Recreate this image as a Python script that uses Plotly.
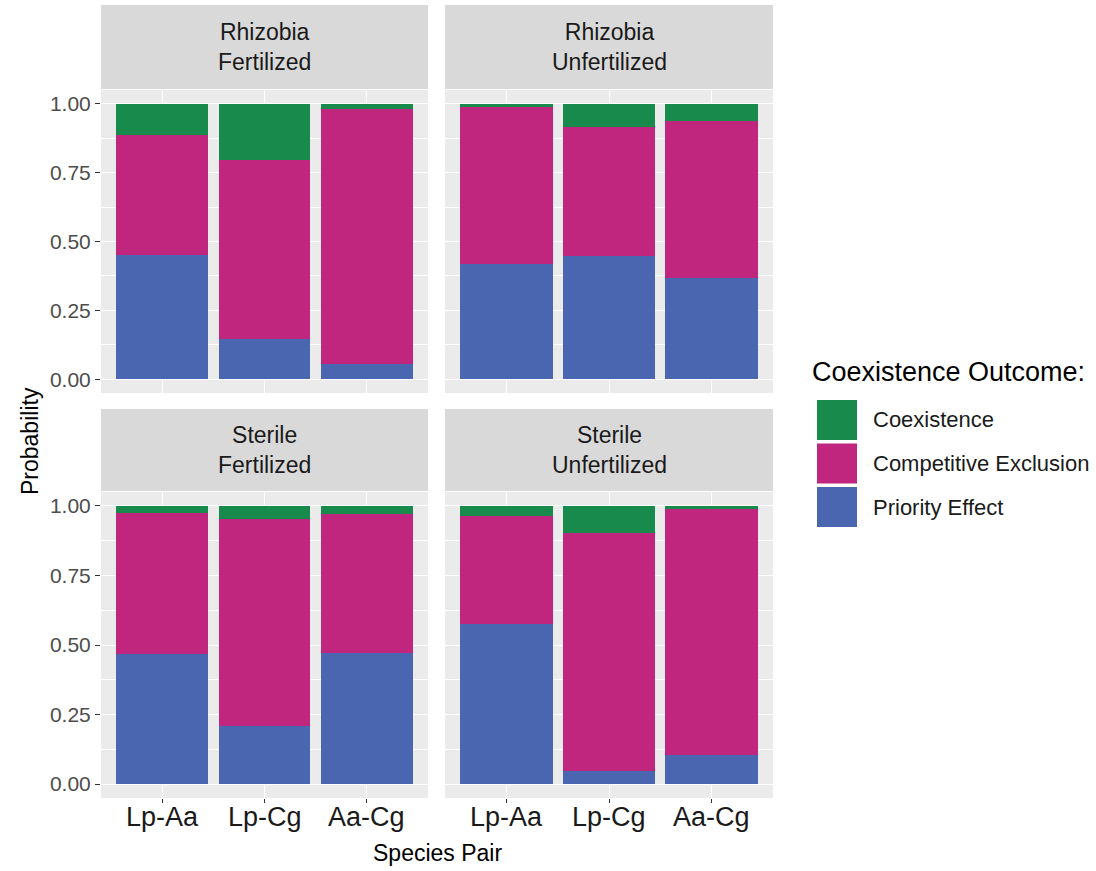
import plotly.graph_objects as go

# Species pairs on the x axis of every panel
pairs = ["Lp-Aa", "Lp-Cg", "Aa-Cg"]

# Panel labels (inoculum / fertilization)
panel_titles = ["Rhizobia<br>Fertilized", "Rhizobia<br>Unfertilized",
                "Sterile<br>Fertilized", "Sterile<br>Unfertilized"]

# Probability of each coexistence outcome, per panel, ordered as `pairs`
rf_priority = [0.450, 0.145, 0.054]
rf_exclusion = [0.435, 0.652, 0.928]
rf_coexistence = [0.115, 0.203, 0.018]

ru_priority = [0.420, 0.449, 0.366]
ru_exclusion = [0.569, 0.468, 0.572]
ru_coexistence = [0.011, 0.083, 0.062]

sf_priority = [0.467, 0.210, 0.471]
sf_exclusion = [0.508, 0.743, 0.500]
sf_coexistence = [0.025, 0.047, 0.029]

su_priority = [0.576, 0.047, 0.105]
su_exclusion = [0.388, 0.855, 0.884]
su_coexistence = [0.036, 0.098, 0.011]

outcomes = ["Coexistence", "Competitive Exclusion", "Priority Effect"]
colors = {"Coexistence": "#188A4C",
          "Competitive Exclusion": "#C1267F",
          "Priority Effect": "#4B66B1"}

panel_data = [
    (rf_priority, rf_exclusion, rf_coexistence),
    (ru_priority, ru_exclusion, ru_coexistence),
    (sf_priority, sf_exclusion, sf_coexistence),
    (su_priority, su_exclusion, su_coexistence),
]

W, H = 1096, 871
FONT = "Liberation Sans, Arial, Helvetica, sans-serif"

def px_x(v):
    return v / W

def px_y(v):
    return 1 - v / H

# panel geometry (pixels)
col_x = [(101, 428), (445, 773)]
row_panel = [(90, 393), (492, 798)]
row_strip = [(5, 89), (409, 491)]

fig = go.Figure()

for i, (pe, ce, co) in enumerate(panel_data):
    ax = "" if i == 0 else str(i + 1)
    for name, vals in (("Priority Effect", pe),
                       ("Competitive Exclusion", ce),
                       ("Coexistence", co)):
        fig.add_trace(go.Bar(
            x=pairs, y=vals, name=name,
            marker=dict(color=colors[name], line=dict(width=0)),
            xaxis="x" + ax, yaxis="y" + ax,
            showlegend=False,
            hovertemplate="%{x}: %{y:.3f}<extra>" + name + "</extra>",
        ))

layout = dict(
    width=W, height=H,
    margin=dict(l=0, r=0, t=0, b=0),
    paper_bgcolor="white",
    plot_bgcolor="#EBEBEB",
    barmode="stack",
    bargap=0.1,
    font=dict(family=FONT, color="#1A1A1A"),
    shapes=[], annotations=[],
)

for i in range(4):
    r, c = divmod(i, 2)
    ax = "" if i == 0 else str(i + 1)
    x0, x1 = col_x[c]
    y0, y1 = row_panel[r]
    layout["xaxis" + ax] = dict(
        domain=[px_x(x0), px_x(x1)],
        anchor="y" + ax,
        type="category",
        range=[-0.6, 2.6],
        showgrid=True, gridcolor="white", gridwidth=1.3,
        zeroline=False, showline=False,
        ticks="outside" if r == 1 else "",
        ticklen=4, tickwidth=1.1, tickcolor="#333333",
        showticklabels=False,
        fixedrange=True,
    )
    layout["yaxis" + ax] = dict(
        domain=[px_y(y1), px_y(y0)],
        anchor="x" + ax,
        range=[-0.05, 1.05],
        tickvals=[0, 0.25, 0.5, 0.75, 1.0],
        ticktext=["0.00", "0.25", "0.50", "0.75", "1.00"],
        showgrid=True, gridcolor="white", gridwidth=1.3,
        minor=dict(tickvals=[0.125, 0.375, 0.625, 0.875], showgrid=True,
                   gridcolor="white", gridwidth=0.6, ticks=""),
        zeroline=False, showline=False,
        ticks="outside" if c == 0 else "",
        ticklen=5, tickwidth=1.1, tickcolor="#333333",
        showticklabels=(c == 0),
        tickfont=dict(size=21, color="#4D4D4D"),
        fixedrange=True,
    )
    # category labels under the bottom row, placed on the category axis
    if r == 1:
        for p in pairs:
            layout["annotations"].append(dict(
                text=p, xref="x" + ax, yref="paper",
                x=p, y=px_y(y1 + 2), xanchor="center", yanchor="top",
                showarrow=False, font=dict(size=27, color="#1A1A1A"),
            ))
    # strip header
    sy0, sy1 = row_strip[r]
    layout["shapes"].append(dict(
        type="rect", xref="paper", yref="paper",
        x0=px_x(x0), x1=px_x(x1), y0=px_y(sy1), y1=px_y(sy0),
        fillcolor="#D9D9D9", line=dict(width=0), layer="below",
    ))
    layout["annotations"].append(dict(
        text=panel_titles[i], xref="paper", yref="paper",
        x=px_x((x0 + x1) / 2), y=px_y((sy0 + sy1) / 2),
        xanchor="center", yanchor="middle", showarrow=False,
        font=dict(size=23, color="#1A1A1A"),
    ))

# axis titles
layout["annotations"].append(dict(
    text="Species Pair", xref="paper", yref="paper",
    x=px_x(437), y=px_y(853), xanchor="center", yanchor="middle",
    showarrow=False, font=dict(size=23, color="#000000"),
))
layout["annotations"].append(dict(
    text="Probability", xref="paper", yref="paper",
    x=px_x(30), y=px_y(441), xanchor="center", yanchor="middle",
    textangle=-90, showarrow=False, font=dict(size=23, color="#000000"),
))

# legend drawn as keys + labels
layout["annotations"].append(dict(
    text="Coexistence Outcome:", xref="paper", yref="paper",
    x=px_x(810), y=px_y(372), xanchor="left", yanchor="middle",
    showarrow=False, font=dict(size=27, color="#000000"),
))
key_top = 400
for k, name in enumerate(outcomes):
    ky0 = key_top + k * 43.5
    ky1 = ky0 + 40
    layout["shapes"].append(dict(
        type="rect", xref="paper", yref="paper",
        x0=px_x(817), x1=px_x(857), y0=px_y(ky1), y1=px_y(ky0),
        fillcolor=colors[name], line=dict(width=0),
    ))
    layout["annotations"].append(dict(
        text=name, xref="paper", yref="paper",
        x=px_x(871), y=px_y((ky0 + ky1) / 2), xanchor="left", yanchor="middle",
        showarrow=False, font=dict(size=22, color="#1A1A1A"),
    ))

fig.update_layout(**layout)
fig.write_html("out.html")
